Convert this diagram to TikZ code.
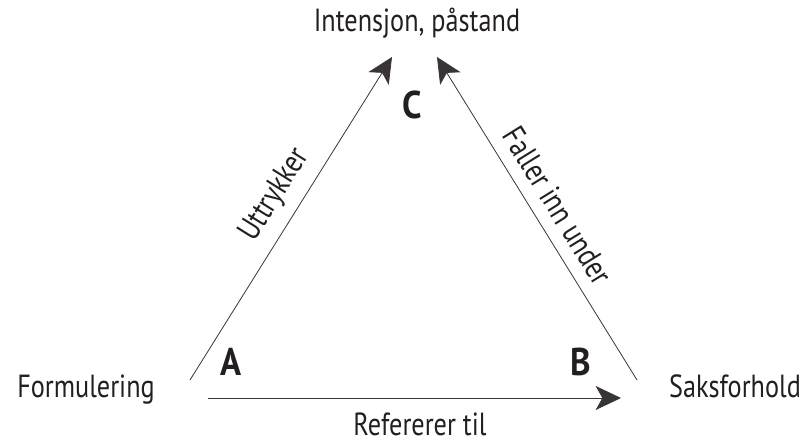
\documentclass[tikz,border=0pt]{standalone}
\usepackage{fontspec}
\setmainfont[FakeStretch=0.82, BoldFeatures={FakeStretch=0.9}]{PT Sans}
\usetikzlibrary{arrows.meta}
\definecolor{ink}{RGB}{35,31,32}
\begin{document}
\begin{tikzpicture}[x=0.75pt, y=-0.75pt,
    every node/.style={font=\fontsize{24}{28}\selectfont, text=ink},
    corner/.style={font=\fontsize{29}{34}\selectfont\bfseries, anchor=base},
    pil/.style={-{Stealth[length=19pt, width=18pt, inset=5pt]}, line width=0.6pt, draw=ink!90}]
    \useasboundingbox (0,0) rectangle (804,441);
    % hjoerner og endepunkter
    \coordinate (a1) at (190,380);
    \coordinate (a2) at (208,398);
    \coordinate (b1) at (637,380);
    \coordinate (b2) at (621,398);
    \coordinate (c1) at (392,57);
    \coordinate (c2) at (437,57);
    \node[anchor=base] (intensjon) at (417,32) {Intensjon, påstand};
    \node[anchor=base] (formulering) at (86,398) {Formulering};
    \node[anchor=base] (saksforhold) at (735,398) {Saksforhold};
    \foreach \navn/\x/\y in {A/231/376, B/581/376, C/412/119}
        \node[corner] (\navn) at (\x,\y) {\navn};
    \draw[pil] (a1) -- node[sloped, above=5pt, pos=0.53] (uttrykker) {Uttrykker} (c1);
    \draw[pil] (b1) -- node[sloped, above=6pt, pos=0.5] (faller) {Faller inn under} (c2);
    \draw[pil] (a2) -- (b2);
    \node[anchor=base, inner sep=0pt] (refererer) at (420,436) {Refererer til};
\end{tikzpicture}
\end{document}
